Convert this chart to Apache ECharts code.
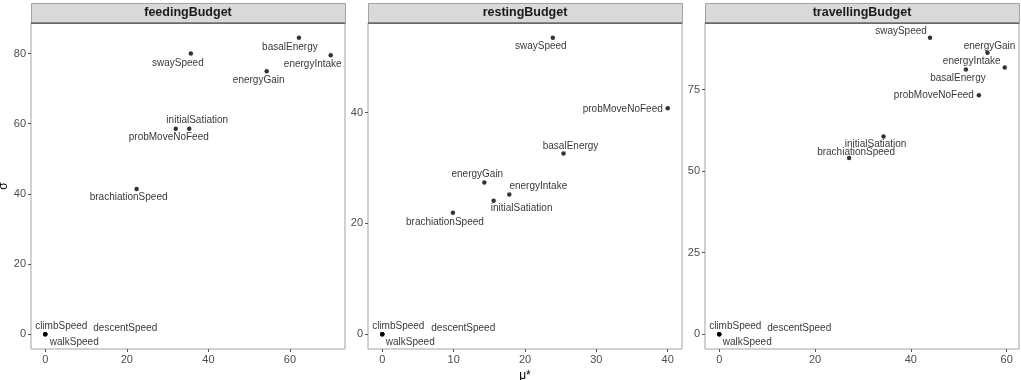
<!DOCTYPE html>
<html>
<head>
<meta charset="utf-8">
<script src="https://cdn.jsdelivr.net/npm/echarts@6/dist/echarts.min.js"></script>
<style>
  html, body { margin: 0; padding: 0; background: #fff; }
  #main { width: 1021px; height: 380px; }
</style>
</head>
<body>
<div id="main"></div>
<script>
// parameter names, same order in every panel
const params = ["swaySpeed", "basalEnergy", "energyIntake", "energyGain", "initialSatiation",
  "probMoveNoFeed", "brachiationSpeed", "climbSpeed", "descentSpeed", "walkSpeed"];

const panelTitles = ["feedingBudget", "restingBudget", "travellingBudget"];

// mu* (x) and sigma (y) per panel
const feedingMu = [35.7, 62.2, 70.0, 54.3, 35.3, 32.0, 22.4, 0, 0, 0];
const feedingSigma = [80.0, 84.5, 79.5, 75.0, 58.6, 58.6, 41.4, 0, 0, 0];
const restingMu = [23.9, 25.4, 17.8, 14.3, 15.6, 40.0, 9.9, 0, 0, 0];
const restingSigma = [53.5, 32.6, 25.2, 27.4, 24.1, 40.8, 21.9, 0, 0, 0];
const travellingMu = [44.0, 51.5, 59.6, 56.0, 34.3, 54.2, 27.1, 0, 0, 0];
const travellingSigma = [90.9, 81.2, 81.8, 86.3, 60.6, 73.3, 54.0, 0, 0, 0];

// tick labels
const feedingXTicks = [0, 20, 40, 60];
const feedingYTicks = [0, 20, 40, 60, 80];
const restingXTicks = [0, 10, 20, 30, 40];
const restingYTicks = [0, 20, 40];
const travellingXTicks = [0, 20, 40, 60];
const travellingYTicks = [0, 25, 50, 75];

// label nudges (px), like ggrepel did
const nudges = [
  [[-13, 10], [-9, 9], [-18, 9], [-8, 9], [8, -8], [-7, 9], [-8, 8], [16, -8], [80, -6], [29, 8]],
  [[-12, 8], [7, -7], [29, -8], [-7, -8], [28, 8], [-45, 1], [-8, 9], [16, -8], [81, -6], [28, 8]],
  [[-29, -7], [-8, 9], [-33, -6], [2, -7], [-8, 8], [-45, 0], [7, -6], [16, -8], [80, -6], [28, 8]]
];

const panels = [
  { mu: feedingMu, sigma: feedingSigma, xt: feedingXTicks, yt: feedingYTicks },
  { mu: restingMu, sigma: restingSigma, xt: restingXTicks, yt: restingYTicks },
  { mu: travellingMu, sigma: travellingSigma, xt: travellingXTicks, yt: travellingYTicks }
];

const FONT = "'Liberation Sans', Arial, sans-serif";
const gridLefts = [31, 368, 705];
const GRID_W = 314, GRID_TOP = 23, GRID_H = 326;

// ggplot style 5% expansion
const expand = (arr) => {
  const lo = Math.min(...arr), hi = Math.max(...arr);
  const pad = (hi - lo) * 0.05;
  return [lo - pad, hi + pad];
};

const grid = [], xAxis = [], yAxis = [], series = [], graphic = [];

panels.forEach((p, i) => {
  grid.push({
    left: gridLefts[i], top: GRID_TOP, width: GRID_W, height: GRID_H,
    containLabel: false, outerBoundsMode: 'none',
    show: true, borderColor: '#a3a3a3', borderWidth: 1, backgroundColor: '#fff'
  });
  const xr = expand(p.mu), yr = expand(p.sigma);
  xAxis.push({
    type: 'value', gridIndex: i, min: xr[0], max: xr[1], position: 'bottom',
    splitLine: { show: false },
    axisLine: { show: false, onZero: false },
    axisTick: { show: true, inside: false, length: 3, customValues: p.xt, lineStyle: { color: '#555' } },
    axisLabel: { customValues: p.xt, color: '#4d4d4d', fontSize: 11, fontFamily: FONT, margin: 5 },
    name: i === 1 ? 'μ*' : '', nameLocation: 'middle', nameGap: 18,
    nameTextStyle: { color: '#000', fontSize: 12, fontFamily: FONT }
  });
  yAxis.push({
    type: 'value', gridIndex: i, min: yr[0], max: yr[1], position: 'left',
    splitLine: { show: false },
    axisLine: { show: false, onZero: false },
    axisTick: { show: true, inside: false, length: 3, customValues: p.yt, lineStyle: { color: '#555' } },
    axisLabel: { customValues: p.yt, color: '#4d4d4d', fontSize: 11, fontFamily: FONT, margin: 5 },
    name: i === 0 ? 'σ' : '', nameLocation: 'middle', nameGap: 20, nameRotate: 90,
    nameTextStyle: { color: '#000', fontSize: 12, fontFamily: FONT }
  });
  series.push({
    type: 'scatter', xAxisIndex: i, yAxisIndex: i,
    symbolSize: 4.5, itemStyle: { color: '#000' },
    label: {
      show: true, position: 'inside', align: 'center', verticalAlign: 'middle',
      color: '#000', fontSize: 10, fontFamily: FONT,
      formatter: (d) => d.name
    },
    emphasis: { disabled: true },
    data: params.map((name, k) => ({
      name, value: [p.mu[k], p.sigma[k]],
      label: { offset: nudges[i][k] }
    }))
  });
  // facet strip
  graphic.push({
    type: 'rect', left: gridLefts[i], top: 3, z: 10,
    shape: { width: GRID_W, height: 20 },
    style: { fill: '#d9d9d9', stroke: '#a3a3a3', lineWidth: 1 }
  });
  graphic.push({
    type: 'line', z: 11,
    shape: { x1: gridLefts[i], y1: GRID_TOP, x2: gridLefts[i] + GRID_W, y2: GRID_TOP },
    style: { stroke: '#333', lineWidth: 1 }
  });
  graphic.push({
    type: 'text', z: 12, x: gridLefts[i] + GRID_W / 2, y: 13,
    style: {
      text: panelTitles[i], fill: '#1a1a1a', font: "bold 12.5px " + FONT,
      align: 'center', verticalAlign: 'middle'
    }
  });
});

const chart = echarts.init(document.getElementById('main'), null, { renderer: 'canvas' });
chart.setOption({
  backgroundColor: '#fff',
  animation: false,
  grid, xAxis, yAxis, series, graphic
});
</script>
</body>
</html>
